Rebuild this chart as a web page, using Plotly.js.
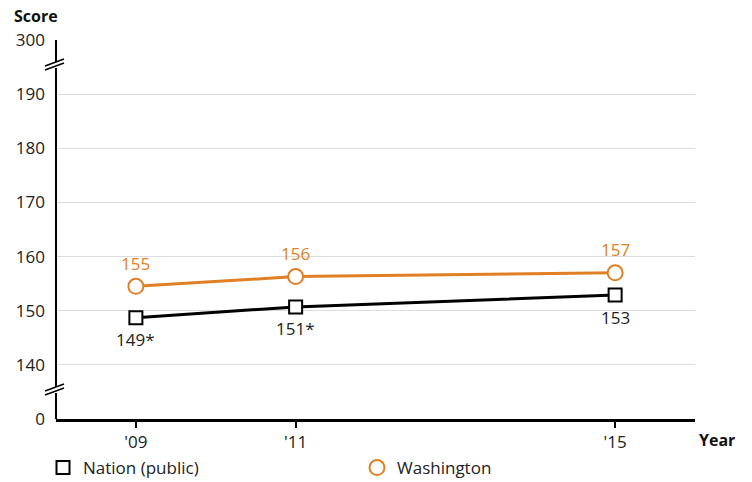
<!DOCTYPE html>
<html><head><meta charset="utf-8">
<script src="https://cdn.plot.ly/plotly-3.0.1.min.js"></script>
<style>body{margin:0;background:#fff}#c{width:752px;height:482px}</style>
</head><body><div id="c"></div>
<script>
// Data
var years = [2009, 2011, 2015];
var yearLabels = ["'09", "'11", "'15"];
var nation = [148.7, 150.7, 152.9];
var nationLabels = ["149*", "151*", "153"];
var washington = [154.5, 156.3, 157.0];
var washingtonLabels = ["155", "156", "157"];
// Broken y-axis: displayed tick labels mapped onto plot positions
var yTickVals = [130, 140, 150, 160, 170, 180, 190, 200];
var yTickText = ["0", "140", "150", "160", "170", "180", "190", "300"];

var orange = "#e07f24";
var font = "Open Sans, Noto Sans, sans-serif";
var fs = 17;

var traces = [
  {x: years, y: nation, name: "Nation (public)", mode: "lines+markers", showlegend: false,
   line: {color: "#000", width: 3},
   marker: {symbol: "square", size: 13, color: "#fff", line: {color: "#000", width: 2}}},
  {x: years, y: washington, name: "Washington", mode: "lines+markers", showlegend: false,
   line: {color: orange, width: 3},
   marker: {symbol: "circle", size: 15, color: "#fff", line: {color: orange, width: 2}}},
  // legend-only entries (marker symbol without line)
  {x: [null], y: [null], name: "Nation (public)", mode: "markers",
   marker: {symbol: "square", size: 13, color: "#fff", line: {color: "#000", width: 2}}},
  {x: [null], y: [null], name: "Washington", mode: "markers",
   marker: {symbol: "circle", size: 15, color: "#fff", line: {color: orange, width: 2}}}
];

// pixel helpers for plot area (l=56, r=695, t=40, b=419)
function px(x){ return (x-56)/639; }
function py(y){ return (419-y)/379; }

var shapes = [
  {type:"line", xref:"paper", yref:"paper", x0:0, x1:0, y0:py(419), y1:py(393), line:{color:"#000", width:2}},
  {type:"line", xref:"paper", yref:"paper", x0:0, x1:0, y0:py(387), y1:py(68), line:{color:"#000", width:2}},
  {type:"line", xref:"paper", yref:"paper", x0:0, x1:0, y0:py(62), y1:py(40), line:{color:"#000", width:2}},
  {type:"line", xref:"paper", yref:"paper", x0:px(45), x1:px(64), y0:py(70), y1:py(63), line:{color:"#000", width:1.5}},
  {type:"line", xref:"paper", yref:"paper", x0:px(45), x1:px(64), y0:py(66), y1:py(59), line:{color:"#000", width:1.5}},
  {type:"line", xref:"paper", yref:"paper", x0:px(45), x1:px(64), y0:py(395), y1:py(388), line:{color:"#000", width:1.5}},
  {type:"line", xref:"paper", yref:"paper", x0:px(45), x1:px(64), y0:py(391), y1:py(384), line:{color:"#000", width:1.5}}
];

var annotations = [
  {text: "<b>Score</b>", xref: "paper", yref: "paper", x: px(12), y: py(16), xanchor: "left", yanchor: "middle",
   showarrow: false, font: {family: font, size: 16, color: "#111"}},
  {text: "<b>Year</b>", xref: "paper", yref: "paper", x: px(697), y: py(440), xanchor: "left", yanchor: "middle",
   showarrow: false, font: {family: font, size: 16, color: "#111"}}
];
years.forEach(function(yr, i){
  annotations.push({x: yr, y: nation[i], text: nationLabels[i], showarrow: false, yshift: -22,
    xanchor: "center", yanchor: "middle", font: {family: font, size: fs, color: "#222"}});
  annotations.push({x: yr, y: washington[i], text: washingtonLabels[i], showarrow: false, yshift: 23,
    xanchor: "center", yanchor: "middle", font: {family: font, size: fs, color: orange}});
});

var layout = {
  width: 752, height: 482,
  margin: {l: 56, r: 57, t: 40, b: 63, autoexpand: false},
  paper_bgcolor: "#fff", plot_bgcolor: "#fff",
  font: {family: font, size: fs, color: "#222"},
  showlegend: true,
  legend: {orientation: "h", x: px(43), y: py(450), xanchor: "left", yanchor: "top",
           entrywidth: 269, entrywidthmode: "pixels", borderwidth: 0,
           font: {family: font, size: fs, color: "#222"}},
  xaxis: {range: [2008, 2016], tickmode: "array", tickvals: years, ticktext: yearLabels,
          showgrid: false, zeroline: false, showline: true, linecolor: "#000", linewidth: 2.5,
          ticks: "outside", ticklen: 6, tickwidth: 1.5, tickcolor: "#000",
          tickfont: {family: font, size: fs, color: "#222"}},
  yaxis: {range: [130, 200], tickmode: "array", tickvals: yTickVals, ticktext: yTickText,
          showgrid: true, gridcolor: "#dcdcdc", gridwidth: 1, zeroline: false, showline: false,
          ticks: "", ticklabelstandoff: 10,
          tickfont: {family: font, size: fs, color: "#222"}},
  shapes: shapes,
  annotations: annotations
};

Plotly.newPlot("c", traces, layout, {displayModeBar: false});
</script></body></html>
